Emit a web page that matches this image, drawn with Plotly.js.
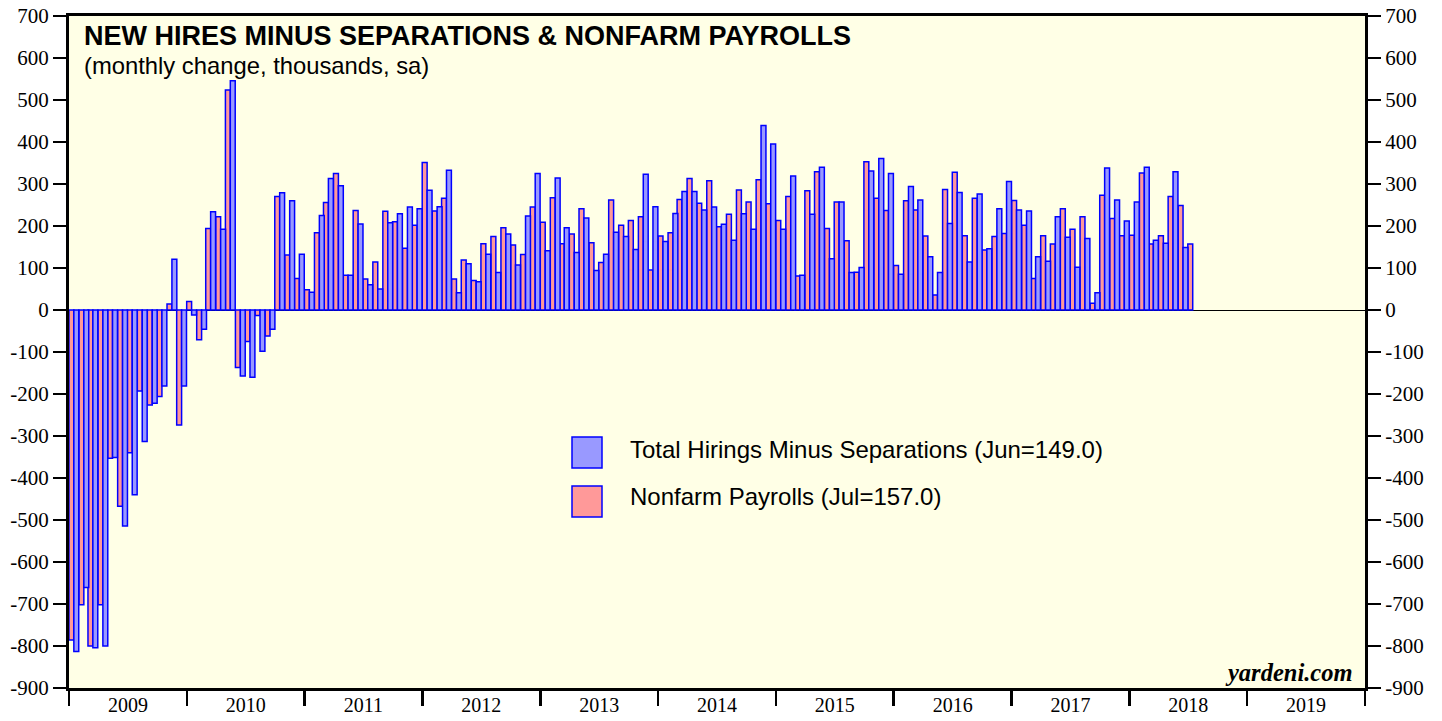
<!DOCTYPE html>
<html>
<head>
<meta charset="utf-8">
<script src="https://cdn.plot.ly/plotly-3.0.1.min.js"></script>
<style>html,body{margin:0;padding:0;background:#fff;}#chart{width:1442px;height:721px;}</style>
</head>
<body>
<div id="chart"></div>
<script>
// ---- DATA ----
const startYear = 2009;
const yearLabels = ['2009','2010','2011','2012','2013','2014','2015','2016','2017','2018','2019'];

// Nonfarm Payrolls, monthly change (thousands), Jan 2009 - Jul 2018
const nonfarmPayrolls = [
  -786, -702, -800, -702, -353, -467, -340, -193, -226, -206, 14, -274,   // 2009
  20, -71, 194, 222, 524, -137, -75, -13, -62, 270, 131, 75,              // 2010
  48, 184, 256, 325, 83, 237, 74, 114, 235, 210, 147, 202,                // 2011
  351, 236, 266, 74, 119, 70, 158, 175, 196, 155, 132, 245,               // 2012
  209, 267, 158, 181, 241, 160, 113, 262, 202, 213, 222, 95,              // 2013
  176, 184, 263, 313, 254, 308, 198, 228, 286, 257, 310, 253,             // 2014
  213, 270, 81, 284, 329, 194, 257, 165, 90, 353, 266, 237,               // 2015
  106, 260, 238, 176, 36, 287, 328, 177, 266, 143, 175, 182,              // 2016
  261, 202, 75, 177, 157, 241, 192, 222, 16, 273, 218, 177,               // 2017
  178, 326, 157, 177, 270, 249, 157                                      // 2018
];

// Total Hirings Minus Separations, monthly (thousands), Jan 2009 - Jun 2018
const hiresMinusSeparations = [
  -813, -661, -804, -800, -351, -514, -440, -313, -222, -181, 121, -181,  // 2009
  -12, -46, 234, 192, 546, -157, -160, -98, -46, 279, 260, 133,           // 2010
  42, 225, 313, 296, 83, 205, 60, 50, 208, 229, 245, 241,                 // 2011
  285, 246, 333, 41, 110, 67, 133, 89, 181, 107, 224, 325,                // 2012
  141, 314, 196, 137, 219, 94, 133, 185, 175, 144, 323, 246,              // 2013
  163, 230, 282, 282, 238, 245, 204, 166, 229, 192, 439, 395,             // 2014
  192, 319, 83, 228, 340, 122, 257, 89, 101, 331, 361, 325,               // 2015
  85, 294, 262, 127, 89, 206, 280, 114, 276, 146, 241, 306,               // 2016
  238, 236, 127, 116, 222, 173, 102, 170, 41, 338, 262, 212,              // 2017
  257, 340, 166, 159, 329, 149                                           // 2018
];

const yTickVals = [-900,-800,-700,-600,-500,-400,-300,-200,-100,0,100,200,300,400,500,600,700];
const yTickText = yTickVals.map(v => String(v)); // plain hyphen minus

const legendNames = ['Total Hirings Minus Separations (Jun=149.0)', 'Nonfarm Payrolls (Jul=157.0)'];

// month dates (mid-month) for each observation
function monthDates(n) {
  const out = [];
  for (let i = 0; i < n; i++) {
    const y = startYear + Math.floor(i / 12);
    const m = (i % 12) + 1;
    out.push(y + '-' + (m < 10 ? '0' + m : m) + '-16');
  }
  return out;
}

// ---- STYLE ----
const BLUE_FILL = '#9999FF';
const PINK_FILL = '#FF9999';
const OUTLINE = '#0000FF';
const HALF_MONTH_MS = 15.2 * 24 * 3600 * 1000;
const SANS = '"Liberation Sans", Arial, Helvetica, sans-serif';
const SERIF = '"Liberation Serif", "Times New Roman", serif';

const traceNFP = {
  type: 'bar', name: legendNames[1],
  x: monthDates(nonfarmPayrolls.length), y: nonfarmPayrolls,
  width: HALF_MONTH_MS, offset: -HALF_MONTH_MS,
  marker: {color: PINK_FILL, line: {color: OUTLINE, width: 1.5}},
  showlegend: false, hoverinfo: 'x+y'
};
const traceHires = {
  type: 'bar', name: legendNames[0],
  x: monthDates(hiresMinusSeparations.length), y: hiresMinusSeparations,
  width: HALF_MONTH_MS, offset: 0,
  marker: {color: BLUE_FILL, line: {color: OUTLINE, width: 1.5}},
  showlegend: false, hoverinfo: 'x+y'
};

const tickFont = {family: SERIF, size: 21, color: '#000'};

const W = 1442, H = 721;
const M = {l: 69, r: 77, t: 16, b: 33};
const PW = W - M.l - M.r, PH = H - M.t - M.b;
const px = x => (x - M.l) / PW;
const py = y => 1 - (y - M.t) / PH;

const layout = {
  width: W, height: H,
  margin: M,
  paper_bgcolor: '#FFFFFF',
  plot_bgcolor: '#FFFFE6',
  barmode: 'overlay',
  showlegend: false,
  xaxis: {
    type: 'date',
    range: ['2009-01-01', '2020-01-01'],
    tick0: '2009-01-01', dtick: 'M12',
    ticklabelmode: 'period', tickformat: '%Y',
    ticks: 'outside', ticklen: 15, tickwidth: 2.5, tickcolor: '#000',
    ticklabelstandoff: -18,
    showline: true, linewidth: 3, linecolor: '#000', mirror: true,
    showgrid: false, zeroline: false,
    tickfont: {family: SERIF, size: 20, color: '#000'}, fixedrange: true
  },
  yaxis: {
    range: [-900, 700],
    tickvals: yTickVals, ticktext: yTickText,
    ticks: 'outside', ticklen: 13, tickwidth: 1.5, tickcolor: '#000',
    showline: true, linewidth: 3, linecolor: '#000',
    showgrid: false, zeroline: true, zerolinecolor: '#000', zerolinewidth: 1,
    tickfont: tickFont, fixedrange: true
  },
  yaxis2: {
    overlaying: 'y', side: 'right', matches: 'y',
    range: [-900, 700],
    tickvals: yTickVals, ticktext: yTickText,
    ticks: 'outside', ticklen: 13, tickwidth: 1.5, tickcolor: '#000',
    showline: true, linewidth: 3, linecolor: '#000',
    showgrid: false, zeroline: false,
    tickfont: tickFont, fixedrange: true
  },
  shapes: [
    {type: 'rect', xref: 'paper', yref: 'paper', x0: px(572), x1: px(602), y0: py(468), y1: py(437),
     fillcolor: BLUE_FILL, line: {color: OUTLINE, width: 1.5}},
    {type: 'rect', xref: 'paper', yref: 'paper', x0: px(572), x1: px(602), y0: py(517), y1: py(486),
     fillcolor: PINK_FILL, line: {color: OUTLINE, width: 1.5}}
  ],
  annotations: [
    {xref: 'paper', yref: 'paper', x: px(82), y: py(36), xanchor: 'left', yanchor: 'middle',
     text: '<b>NEW HIRES MINUS SEPARATIONS & NONFARM PAYROLLS</b>', showarrow: false,
     font: {family: SANS, size: 27, color: '#000'}},
    {xref: 'paper', yref: 'paper', x: px(82), y: py(66), xanchor: 'left', yanchor: 'middle',
     text: '(monthly change, thousands, sa)', showarrow: false,
     font: {family: SANS, size: 23.8, color: '#000'}},
    {xref: 'paper', yref: 'paper', x: px(628), y: py(449), xanchor: 'left', yanchor: 'middle',
     text: legendNames[0], showarrow: false,
     font: {family: SANS, size: 24, color: '#000'}},
    {xref: 'paper', yref: 'paper', x: px(628), y: py(496), xanchor: 'left', yanchor: 'middle',
     text: legendNames[1], showarrow: false,
     font: {family: SANS, size: 24, color: '#000'}},
    {xref: 'paper', yref: 'paper', x: px(1355), y: py(672), xanchor: 'right', yanchor: 'middle',
     text: '<b><i>yardeni.com</i></b>', showarrow: false,
     font: {family: SERIF, size: 24.5, color: '#000'}}
  ]
};

// invisible helper so the right axis is rendered
const traceRight = {type: 'scatter', x: [], y: [], yaxis: 'y2', showlegend: false, hoverinfo: 'skip'};

Plotly.newPlot('chart', [traceNFP, traceHires, traceRight], layout, {staticPlot: true, displayModeBar: false});
</script>
</body>
</html>
